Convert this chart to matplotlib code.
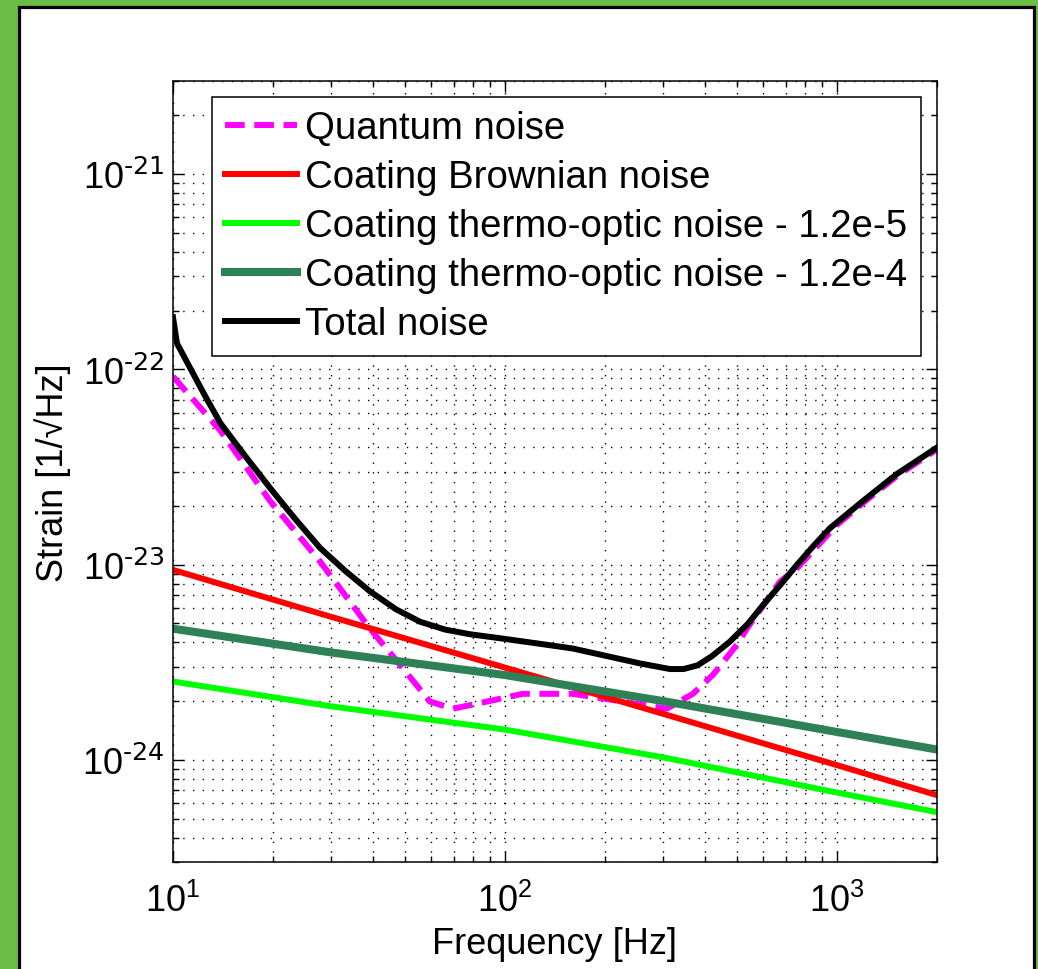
import matplotlib
matplotlib.use("Agg")
import matplotlib.pyplot as plt
from matplotlib.patches import Rectangle

plt.rcParams['font.family'] = ['Liberation Sans', 'DejaVu Sans']

# Quantum noise
f_qn = [10, 13.9, 19.6, 27.7, 39.2, 49.3, 59.4, 69.7, 80, 113, 160, 226, 307,
        368, 424, 500, 535, 674, 758, 1000, 1197, 1517, 2000]
qn = [9.2e-23, 4.85e-23, 2.12e-23, 1.04e-23, 4.7e-24, 2.94e-24, 1.99e-24, 1.83e-24,
      1.92e-24, 2.18e-24, 2.18e-24, 1.99e-24, 1.83e-24, 2.18e-24, 2.74e-24, 3.9e-24,
      4.7e-24, 8.2e-24, 9.6e-24, 1.6e-23, 2.07e-23, 2.85e-23, 3.9e-23]

# Coating Brownian noise
f_cb = [10, 30, 100, 300, 1000, 2000]
cb = [9.4e-24, 5.4e-24, 2.97e-24, 1.72e-24, 9.4e-25, 6.6e-25]

# Coating thermo-optic noise, two cases
f_to = [10, 30, 100, 300, 1000, 2000]
to_5 = [2.52e-24, 1.88e-24, 1.43e-24, 1.03e-24, 6.8e-25, 5.4e-25]
to_4 = [4.7e-24, 3.55e-24, 2.72e-24, 2.0e-24, 1.39e-24, 1.13e-24]

# Total noise
f_tot = [10, 10.28, 11.25, 12.5, 13.9, 16.5, 19.6, 23.3, 27.7, 33, 39.2, 47, 55.5, 66,
         78.5, 96.5, 125, 160, 203, 255, 314, 345, 380, 420, 476, 540, 598, 680, 758,
         850, 953, 1197, 1517, 2000]
tot = [1.85e-22, 1.36e-22, 1.02e-22, 7.3e-23, 5.3e-23, 3.6e-23, 2.47e-23, 1.72e-23,
       1.22e-23, 9.3e-24, 7.3e-24, 5.9e-24, 5.1e-24, 4.65e-24, 4.4e-24, 4.2e-24,
       3.95e-24, 3.72e-24, 3.4e-24, 3.12e-24, 2.92e-24, 2.92e-24, 3.05e-24, 3.4e-24,
       4.04e-24, 5.0e-24, 6.2e-24, 8.0e-24, 1.0e-23, 1.25e-23, 1.54e-23, 2.12e-23,
       2.92e-23, 3.98e-23]

labels = ['Quantum noise', 'Coating Brownian noise',
          'Coating thermo-optic noise - 1.2e-5',
          'Coating thermo-optic noise - 1.2e-4', 'Total noise']

# tick labels, MATLAB style with a plain hyphen in the exponent
x_ticks = [10, 100, 1000]
x_ticklabels = [r'$\mathdefault{10^{1}}$', r'$\mathdefault{10^{2}}$', r'$\mathdefault{10^{3}}$']
y_ticks = [1e-24, 1e-23, 1e-22, 1e-21]
y_ticklabels = [r'$\mathdefault{10^{\text{-24}}}$', r'$\mathdefault{10^{\text{-23}}}$',
                r'$\mathdefault{10^{\text{-22}}}$', r'$\mathdefault{10^{\text{-21}}}$']

fig = plt.figure(figsize=(10.38, 9.70), dpi=100, facecolor='#6BBE45')
# white panel with black frame, behind the axes
fig.patches.append(Rectangle((18.5 / 1038, -0.02), (1033.5 - 18.5) / 1038, 1.02 - 7.5 / 970,
                             transform=fig.transFigure, facecolor='white',
                             edgecolor='black', lw=2.3, zorder=-5))

ax = fig.add_axes([173 / 1038, 1 - 863 / 970, 764 / 1038, 781 / 970])
ax.set_xscale('log')
ax.set_yscale('log')

ax.plot(f_qn, qn, color='#FF00FF', lw=4.3, ls='--', dashes=(3.3, 1.6), label=labels[0])
ax.plot(f_cb, cb, color='#FF0000', lw=4.3, label=labels[1])
ax.plot(f_to, to_5, color='#00FF00', lw=4.3, label=labels[2])
ax.plot(f_to, to_4, color='#2E8057', lw=5.8, label=labels[3])
ax.plot(f_tot, tot, color='black', lw=4.3, label=labels[4])

ax.set_xlim(10, 2000)
ax.set_ylim(3e-25, 3e-21)
ax.set_xticks(x_ticks, x_ticklabels)
ax.set_yticks(y_ticks, y_ticklabels)

ax.grid(True, which='both', color='black', ls=(0, (1, 6)), lw=1.0)
ax.tick_params(which='both', direction='in', top=True, right=True, labelsize=26, width=1)
ax.tick_params(which='major', length=8)
ax.tick_params(which='minor', length=4)
ax.tick_params(axis='x', which='major', pad=15)
ax.tick_params(axis='y', which='major', pad=6)
for s in ax.spines.values():
    s.set_linewidth(1.1)

ax.set_xlabel('Frequency [Hz]', fontsize=26, labelpad=5)
ax.set_ylabel('Strain [1/\u221aHz]', fontsize=26, labelpad=8)

leg = ax.legend(loc='upper left', bbox_to_anchor=(0.051, 0.98), borderaxespad=0,
                fontsize=27.6, fancybox=False, edgecolor='black', framealpha=1,
                handlelength=1.88, handletextpad=0.2, labelspacing=0.34,
                borderpad=0.35)
leg.get_frame().set_linewidth(1.1)

fig.savefig('out.png', dpi=100, facecolor=fig.get_facecolor())
